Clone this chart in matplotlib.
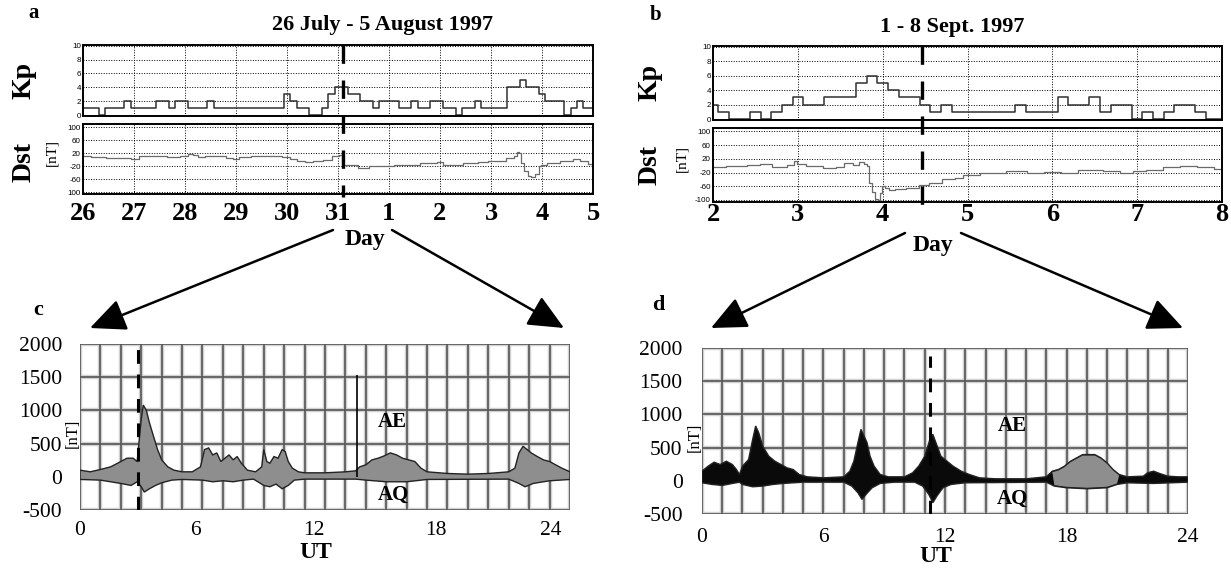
import numpy as np
import matplotlib
matplotlib.use("Agg")
import matplotlib.pyplot as plt
from matplotlib.patches import FancyArrowPatch
from matplotlib.lines import Line2D
from matplotlib.transforms import blended_transform_factory

# ---------------- data ----------------
# panel a : 26 July - 5 August 1997 (x = days after 26 July 00 UT)
a_day_labels = ['26', '27', '28', '29', '30', '31', '1', '2', '3', '4', '5']
kp_a = [1, 1, 1, 0, 1, 1, 1, 2, 1, 1, 1, 1, 2, 2, 1, 2, 2, 1, 1, 1, 2,
        1, 1, 1, 1, 1, 1, 1, 1, 1, 1, 1,
        3, 2, 1, 1, 0, 0, 1, 3, 4, 4, 3, 3, 2, 2, 1,
        2, 2, 2, 1, 1, 2, 1, 1, 2, 2, 1, 1, 0, 1, 1, 2,
        1, 1, 1, 1, 4, 4, 5, 4, 4, 3, 2, 2, 2, 0, 1, 2, 1, 1]
dst_a_t = [0.0, 0.3, 0.6, 0.9, 1.0, 1.2, 1.5, 1.8, 2.0, 2.1, 2.2, 2.3, 2.5, 2.7, 2.9,
           3.0, 3.1, 3.5, 3.8, 4.0, 4.1, 4.3, 4.4, 4.6, 4.8, 4.95, 5.07,
           5.1, 5.3, 5.5, 5.7, 6.0, 6.2, 6.5, 6.7, 6.9, 7.0, 7.1, 7.3, 7.6, 7.9,
           8.0, 8.2, 8.4, 8.5, 8.53, 8.57, 8.6, 8.7, 8.75, 8.83, 8.9, 8.98,
           9.0, 9.2, 9.5, 9.7, 9.8, 10.0]
dst_a_v = [12, 8, 5, 5, 3, 10, 10, 8, 10, 17, 15, 8, 12, 10, 6,
           2, 8, 10, 12, 8, 3, -4, -8, -5, 0, 12, 15,
           -18, -18, -25, -20, -20, -18, -15, -9, -11, -8, -18, -15, -11, -8,
           -5, -5, 5, 10, 25, 20, -10, -35, -50, -55, -45, -20,
           -18, -10, -5, 2, -5, -12]
a_event = 5.1

# panel b : 1 - 8 Sept. 1997 (x = days after 2 Sept 00 UT)
b_day_labels = ['2', '3', '4', '5', '6', '7', '8']
kp_b = [2, 1, 0, 0, 1, 0, 1, 2, 3, 2, 2, 3, 3, 3, 5, 6, 5, 4, 3, 3, 2, 1, 2,
        1, 1, 1, 1, 1, 1, 2, 1, 1, 1, 3, 2, 2, 3, 1, 2, 2, 0, 1, 0, 1, 2, 2, 1, 0, 0]
dst_b_t = [0.0, 0.3, 0.5, 0.6, 0.8, 0.95, 0.97, 1.0, 1.2, 1.4, 1.5, 1.6, 1.7, 1.75,
           1.8, 1.82, 1.85, 1.9, 1.93, 1.95, 1.98, 2.0, 2.05, 2.1, 2.2, 2.35, 2.5,
           2.6, 2.8, 2.9, 3.0, 3.3, 3.6, 3.8, 4.0, 4.2, 4.4, 4.5, 4.7, 4.9, 5.0,
           5.2, 5.4, 5.6, 5.8, 6.0]
dst_b_v = [-4, -1, 1, 4, -4, 1, 13, 6, -2, -8, -4, 8, 3, 10,
           6, -2, -50, -78, -97, -100, -80, -60, -65, -71, -69, -65, -55,
           -50, -40, -36, -27, -22, -16, -20, -18, -22, -12, -13, -16, -20, -15,
           -13, -5, -2, -3, -10]
b_event = 2.46

kp_ticks = [0, 2, 4, 6, 8, 10]
dst_ticks = [100, 60, 20, -20, -60, -100]
dst_a_ticklabels = ['100', '60', '20', '-20', '-60', '100']
dst_b_ticklabels = ['100', '60', '20', '-20', '-60', '-100']

# panel c : AE / AQ, 31 July 1997 (UT hours)
c_up_t = [0.0, 0.5, 1.0, 1.5, 2.0, 2.3, 2.6, 2.8, 3.0, 3.1, 3.25, 3.4, 3.6, 3.8, 4.0,
          4.3, 4.6, 5.0, 5.5, 5.9, 6.1, 6.3, 6.5, 6.7, 6.9, 7.1, 7.3, 7.5, 7.7, 7.9,
          8.2, 8.6, 8.9, 9.0, 9.15, 9.3, 9.5, 9.7, 9.9, 10.05, 10.2, 10.4, 10.7, 11.0,
          12.0, 13.0, 13.5, 13.7, 14.0, 14.3, 14.6, 14.9, 15.2, 15.5, 15.8, 16.1, 16.4,
          16.7, 17.0, 18.0, 19.0, 20.0, 21.0, 21.3, 21.5, 21.7, 21.9, 22.1, 22.4, 22.7,
          23.0, 23.3, 23.6, 24.0]
c_up_v = [100, 75, 110, 150, 230, 280, 280, 230, 870, 1080, 1000, 815, 610, 410, 255,
          150, 100, 75, 75, 150, 410, 435, 330, 360, 230, 280, 330, 255, 305, 205,
          100, 75, 150, 410, 230, 205, 305, 280, 410, 380, 230, 130, 75, 60,
          60, 75, 90, 150, 180, 255, 280, 315, 360, 330, 280, 255, 230,
          130, 75, 50, 40, 50, 75, 130, 360, 460, 410, 360, 305, 255,
          230, 180, 130, 75]
c_lo_t = [0.0, 1.0, 1.5, 2.0, 2.5, 2.8, 3.0, 3.15, 3.4, 3.7, 4.0, 4.5, 5.0, 6.0, 6.5,
          7.0, 7.5, 8.0, 8.5, 9.0, 9.3, 9.6, 9.9, 10.2, 10.5, 11.0, 13.5, 14.0, 15.0,
          16.0, 17.0, 21.0, 21.5, 21.8, 22.2, 23.0, 24.0]
c_lo_v = [-40, -50, -75, -100, -130, -75, -150, -230, -180, -130, -90, -50, -40, -50, -75,
          -60, -75, -50, -35, -130, -150, -110, -180, -130, -50, -35, -35, -50, -75,
          -75, -40, -35, -100, -150, -100, -60, -40]
c_spike_t = 13.55
c_spike_v = 1530
c_event = 2.85
c_tick_pos = [0.0, 5.65, 11.45, 17.45, 23.05]
d_tick_pos = [0, 6, 12, 18, 24]
ut_ticklabels = ['0', '6', '12', '18', '24']

# panel d : AE / AQ, 4 Sept 1997 (UT hours)
d_up_t = [0.0, 0.3, 0.6, 0.9, 1.2, 1.5, 1.7, 1.85, 2.0, 2.3, 2.5, 2.65, 2.8, 3.0, 3.3,
          3.6, 3.9, 4.2, 4.5, 4.8, 5.2, 6.0, 7.0, 7.3, 7.5, 7.7, 7.85, 8.0, 8.15, 8.3,
          8.5, 8.8, 9.2, 10.0, 10.4, 10.7, 11.0, 11.25, 11.4, 11.55, 11.8, 12.1, 12.4,
          12.8, 13.2, 13.7, 14.5, 16.0, 17.0, 17.3, 17.6, 17.9, 18.2, 18.5, 18.8, 19.1,
          19.4, 19.7, 20.0, 20.3, 20.6, 21.0, 21.8, 22.0, 22.3, 22.6, 23.0, 23.5, 24.0]
d_up_v = [145, 220, 280, 245, 295, 245, 170, 95, 220, 320, 620, 825, 725, 520, 370,
          295, 245, 195, 170, 95, 60, 45, 60, 145, 295, 575, 775, 675, 575, 370,
          220, 95, 60, 60, 120, 220, 370, 620, 700, 575, 370, 295, 220,
          145, 95, 45, 30, 30, 60, 145, 170, 220, 295, 345, 395, 395,
          395, 345, 270, 170, 95, 60, 70, 120, 145, 110, 70, 60, 60]
d_lo_t = [0.0, 0.5, 1.0, 1.5, 1.85, 2.0, 2.5, 3.0, 3.5, 4.0, 5.0, 7.0, 7.4, 7.7, 7.9,
          8.1, 8.4, 8.8, 9.5, 10.5, 10.9, 11.2, 11.4, 11.6, 11.9, 12.3, 13.0, 17.0,
          17.4, 18.0, 19.0, 20.0, 20.5, 21.0, 22.3, 24.0]
d_lo_v = [-30, -55, -70, -40, -20, -55, -90, -80, -55, -40, -20, -20, -80, -180, -280,
          -205, -105, -40, -20, -20, -80, -205, -330, -230, -105, -55, -30, -20,
          -80, -105, -120, -105, -55, -30, -40, -20]
d_gray_span = (17.2, 20.6)
d_event = 11.25

# ---------------- layout helpers ----------------
W, H = 1231, 572
fig = plt.figure(figsize=(W / 100, H / 100), dpi=100)
SERIF = 'Liberation Serif'
SANS = 'Liberation Sans'


def box(l, t, r, b):
    return [l / W, 1 - b / H, (r - l) / W, (b - t) / H]


def ftext(x, y, s, **kw):
    kw.setdefault('ha', 'center')
    kw.setdefault('va', 'center')
    kw.setdefault('family', SERIF)
    kw.setdefault('weight', 'bold')
    fig.text(x / W, 1 - y / H, s, **kw)


def arrow(x0, y0, x1, y1):
    fig.patches.append(FancyArrowPatch(
        (x0 / W, 1 - y0 / H), (x1 / W, 1 - y1 / H), transform=fig.transFigure,
        arrowstyle='-|>,head_length=22,head_width=10', mutation_scale=1,
        lw=1.8, color='k', shrinkA=0, shrinkB=0))


dot = (0, (1, 1.6))


def style_small(ax, ndays):
    ax.set_xlim(0, ndays)
    ax.set_xticks(range(ndays + 1))
    ax.grid(True, ls=dot, color='k', lw=0.7)
    ax.tick_params(length=0, pad=1.5, labelsize=5.8)
    for lab in ax.get_yticklabels():
        lab.set_family(SANS)
    for s in ax.spines.values():
        s.set_linewidth(1.4)


def kp_dst(axK, axD, kp, dt, dv, ndays, labels, dstlabels, event, daypad):
    t = np.arange(len(kp)) * 0.125
    axK.step(t, kp, where='mid', color='#303030', lw=1.1)
    axK.set_ylim(-0.12, 10.1)
    axK.set_yticks(kp_ticks)
    axK.set_yticklabels([str(k) for k in kp_ticks])
    style_small(axK, ndays)
    axK.set_xticklabels([])
    axD.plot(dt, dv, color='#6a6a6a', lw=0.9, drawstyle='steps-mid')
    axD.set_ylim(-106, 110)
    axD.set_yticks(dst_ticks)
    axD.set_yticklabels(dstlabels)
    style_small(axD, ndays)
    axD.set_xticklabels(labels)
    axD.tick_params(axis='x', pad=daypad, labelsize=19)
    for lab in axD.get_xticklabels():
        lab.set_family(SERIF)
        lab.set_weight('bold')
    tr = blended_transform_factory(axK.transData, fig.transFigure)
    y_top = axK.get_position().y1
    y_bot = axD.get_position().y0 - 3 / H
    fig.lines.append(Line2D([event, event], [y_top, y_bot], transform=tr,
                            color='k', lw=2.4, ls=(0, (5.5, 5.0))))


axKa = fig.add_axes(box(83, 45, 593, 116))
axDa = fig.add_axes(box(83, 124, 593, 194))
axKb = fig.add_axes(box(713, 46, 1222, 120))
axDb = fig.add_axes(box(713, 128, 1222, 202))
kp_dst(axKa, axDa, kp_a, dst_a_t, dst_a_v, 10, a_day_labels, dst_a_ticklabels, a_event, 6)
kp_dst(axKb, axDb, kp_b, dst_b_t, dst_b_v, 6, b_day_labels, dst_b_ticklabels, b_event, 0.5)


# ---------- AE / AQ panels ----------
def ae_panel(ax, up_t, up_v, lo_t, lo_v, fillc, ticks, ypad, xpad):
    ax.set_xlim(0, 24)
    ax.set_ylim(-500, 2000)
    hrs = np.arange(25)
    lev = np.arange(-500, 2001, 500)
    ax.vlines(hrs, -500, 2000, color='#d2d2d2', lw=3.2, zorder=1)
    ax.hlines(lev, 0, 24, color='#d2d2d2', lw=3.2, zorder=1)
    ax.vlines(hrs, -500, 2000, color='#555555', lw=1.2, zorder=2)
    ax.hlines(lev, 0, 24, color='#555555', lw=1.2, zorder=2)
    xs = np.r_[up_t, lo_t[::-1]]
    ys = np.r_[up_v, lo_v[::-1]]
    ax.fill(xs, ys, facecolor=fillc, edgecolor='#222222', lw=1.0, zorder=3)
    ax.set_xticks(ticks)
    ax.set_xticklabels(ut_ticklabels)
    ax.set_yticks(lev)
    ax.set_yticklabels([str(v) for v in lev])
    ax.tick_params(length=0, labelsize=15.5)
    ax.tick_params(axis='y', pad=ypad)
    ax.tick_params(axis='x', pad=xpad)
    for lab in ax.get_xticklabels() + ax.get_yticklabels():
        lab.set_family(SERIF)
    for s in ax.spines.values():
        s.set_visible(False)


axc = fig.add_axes(box(80, 344, 570, 510))
axd = fig.add_axes(box(702, 348, 1188, 514))
ae_panel(axc, np.array(c_up_t), np.array(c_up_v), np.array(c_lo_t), np.array(c_lo_v),
         '#8e8e8e', c_tick_pos, 13, 8)
ae_panel(axd, np.array(d_up_t), np.array(d_up_v), np.array(d_lo_t), np.array(d_lo_v),
         '#0a0a0a', d_tick_pos, 14, 10)

# gray part of panel d
du_t, du_v = np.array(d_up_t), np.array(d_up_v)
dl_t, dl_v = np.array(d_lo_t), np.array(d_lo_v)
mu = (du_t >= d_gray_span[0]) & (du_t <= d_gray_span[1])
ml = (dl_t >= d_gray_span[0]) & (dl_t <= d_gray_span[1])
axd.fill(np.r_[du_t[mu], dl_t[ml][::-1]], np.r_[du_v[mu] - 15, dl_v[ml][::-1] + 15],
         facecolor='#8e8e8e', edgecolor='none', zorder=4)

# markers in c / d
axc.vlines(c_spike_t, 0, c_spike_v, color='k', lw=1.2, zorder=5)
axc.vlines(c_event, -500, 2000, color='k', lw=2.2, linestyles=[(0, (4.5, 3.5))], zorder=6)
axd.vlines(d_event, -500, 1880, color='k', lw=2.2, linestyles=[(0, (4.5, 3.5))], zorder=6)
for ax in (axc, axd):
    ax.text(15.3, 830, 'AE', family=SERIF, weight='bold', fontsize=15, ha='center', va='center', zorder=7)
    ax.text(15.35, -270, 'AQ', family=SERIF, weight='bold', fontsize=15, ha='center', va='center', zorder=7)
    ax.text(-0.35, 650, '[nT]', family=SERIF, fontsize=12, rotation=90, ha='center', va='center', zorder=7)

# ---------- text ----------
ftext(34, 13, 'a', fontsize=15)
ftext(656, 15, 'b', fontsize=15)
ftext(38, 310, 'c', fontsize=16)
ftext(658, 305, 'd', fontsize=16)
ftext(383, 25, '26 July - 5 August 1997', fontsize=16)
ftext(952, 27, '1 - 8 Sept. 1997', fontsize=16)
ftext(24, 80, 'Kp', fontsize=20, rotation=90)
ftext(24, 162, 'Dst', fontsize=20, rotation=90)
ftext(52, 153, '[nT]', fontsize=11, rotation=90, weight='normal')
ftext(650, 82, 'Kp', fontsize=20, rotation=90)
ftext(650, 165, 'Dst', fontsize=20, rotation=90)
ftext(682, 158, '[nT]', fontsize=11, rotation=90, weight='normal')
ftext(365, 240, 'Day', fontsize=17)
ftext(933, 245, 'Day', fontsize=17)
ftext(316, 552, 'UT', fontsize=17)
ftext(936, 557, 'UT', fontsize=17)

# ---------- arrows ----------
arrow(333, 230, 90, 328)
arrow(392, 230, 564, 328)
arrow(905, 233, 711, 328)
arrow(961, 233, 1183, 328)

fig.savefig('out.png', dpi=100)
